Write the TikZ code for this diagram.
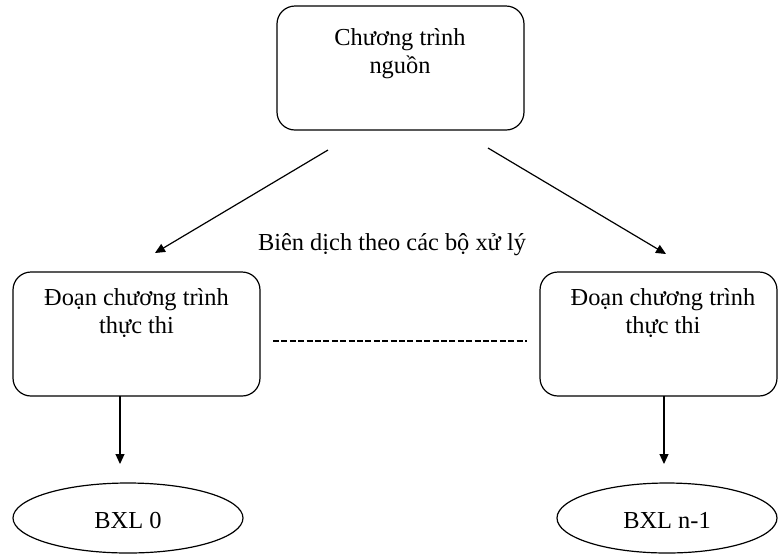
\documentclass[tikz,border=0pt]{standalone}
\usepackage{fontspec}
\setmainfont{Liberation Serif}
\usetikzlibrary{arrows.meta,shapes.geometric,fit}
\begin{document}
\begin{tikzpicture}[x=0.5pt,y=-0.5pt,
  txt/.style={font=\fontsize{12.2}{14}\selectfont, inner sep=0pt, anchor=base},
  box/.style={draw, rounded corners=9pt, line width=0.6pt, inner sep=0pt},
  proc/.style={draw, ellipse, line width=0.6pt, inner sep=0pt},
  link/.style={line width=0.6pt, -{Triangle[length=5pt,width=4.5pt]}},
  sep/.style={line width=0.6pt, dash pattern=on 3pt off 1.2pt}]
  \useasboundingbox (0,0) rectangle (778,554);

  % source program
  \node[box, fit={(277,6)(524,130)}] (src) {};
  \node[txt] (srcA) at (400,45) {Chương trình};
  \node[txt] (srcB) at (400,73) {nguồn};

  % executable segments
  \node[box, fit={(13,272)(260,396)}] (segL) {};
  \node[txt] (segLA) at (136.5,305) {Đoạn chương trình};
  \node[txt] (segLB) at (136.5,333) {thực thi};

  \node[box, fit={(540,272)(777,396)}] (segR) {};
  \node[txt] (segRA) at (663,305) {Đoạn chương trình};
  \node[txt] (segRB) at (663,333) {thực thi};

  % processors
  \node[proc, minimum width=115pt, minimum height=35pt] (cpu0) at (128,518) {};
  \node[txt] (cpu0t) at (128,528) {BXL 0};
  \node[proc, minimum width=110pt, minimum height=35pt] (cpuN) at (667,518) {};
  \node[txt] (cpuNt) at (667,528) {BXL n-1};

  % compilation label
  \node[txt] (comp) at (392,250) {Biên dịch theo các bộ xử lý};

  % connector end points
  \coordinate (dl0) at (328,150);
  \coordinate (dl1) at (155,253);
  \coordinate (dr0) at (488,148);
  \coordinate (dr1) at (666,254);
  \coordinate (vl0) at (120,396);
  \coordinate (vl1) at (120,464);
  \coordinate (vr0) at (664,396);
  \coordinate (vr1) at (664,464);
  \coordinate (h0) at (273,341);
  \coordinate (h1) at (527,341);

  \draw[link] (dl0) -- (dl1);
  \draw[link] (dr0) -- (dr1);
  \draw[link] (vl0) -- (vl1);
  \draw[link] (vr0) -- (vr1);
  \draw[sep] (h0) -- (h1);
\end{tikzpicture}
\end{document}
